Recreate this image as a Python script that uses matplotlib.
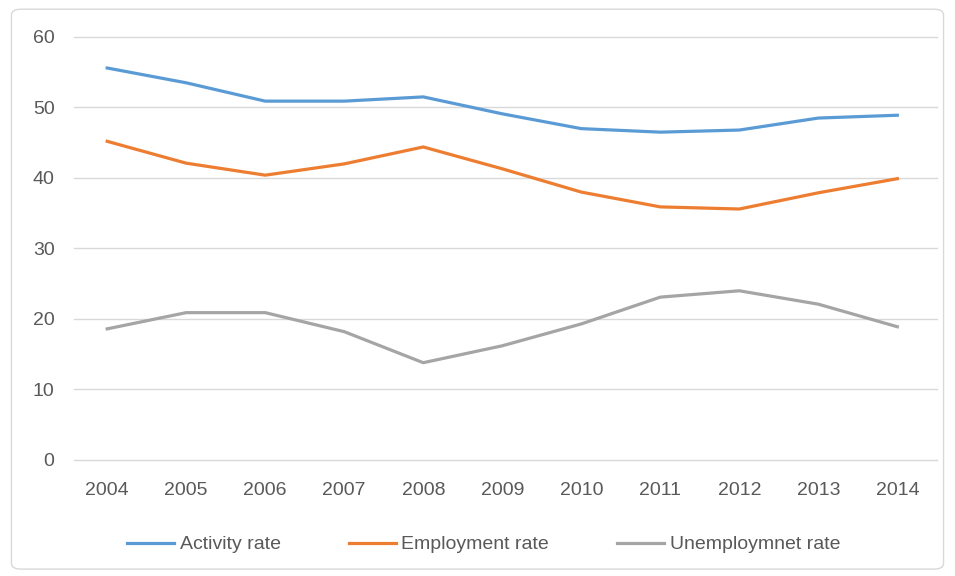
import matplotlib
matplotlib.use("Agg")
import matplotlib.pyplot as plt
from matplotlib.patches import FancyBboxPatch

plt.rcParams['font.family'] = ['Liberation Sans', 'DejaVu Sans']

years = ['2004', '2005', '2006', '2007', '2008', '2009', '2010', '2011', '2012', '2013', '2014']
activity = [55.6, 53.5, 50.9, 50.9, 51.5, 49.1, 47.0, 46.5, 46.8, 48.5, 48.9]
employment = [45.2, 42.1, 40.4, 42.0, 44.4, 41.3, 38.0, 35.9, 35.6, 37.9, 39.9]
unemployment = [18.6, 20.9, 20.9, 18.2, 13.8, 16.2, 19.3, 23.1, 24.0, 22.1, 18.9]

fig = plt.figure(figsize=(9.55, 5.76), dpi=100)
ax = fig.add_axes([0.0775, 0.2014, 0.9035, 0.7344])

# faint outer chart border
fig.patches.append(FancyBboxPatch((0.012, 0.012), 0.976, 0.972, boxstyle="round,pad=0,rounding_size=0.01",
                                  transform=fig.transFigure, fill=False, edgecolor='#d9d9d9', linewidth=1))

x = range(len(years))
ax.plot(x, activity, color='#5B9BD5', lw=2.3, label='Activity rate')
ax.plot(x, employment, color='#ED7D31', lw=2.3, label='Employment rate')
ax.plot(x, unemployment, color='#A5A5A5', lw=2.3, label='Unemploymnet rate')

ax.set_xlim(-0.42, 10.5)
ax.set_ylim(0, 60)
ax.set_yticks(range(0, 61, 10))
ax.set_xticks(list(x))
ax.set_xticklabels(years)
ax.grid(axis='y', color='#d9d9d9', lw=1)
for g in ax.get_ygridlines():
    g.set_clip_on(False)
ax.set_axisbelow(True)
for s in ax.spines.values():
    s.set_visible(False)
ax.tick_params(length=0, labelsize=14, colors='#595959', pad=16)
ax.tick_params(axis='y', pad=14)

ax.legend(loc='center', bbox_to_anchor=(0.475, -0.2), ncol=3, frameon=False,
          fontsize=14, labelcolor='#595959', handlelength=2.4, handletextpad=0.3, columnspacing=3.5)

fig.savefig('out.png', dpi=100)
